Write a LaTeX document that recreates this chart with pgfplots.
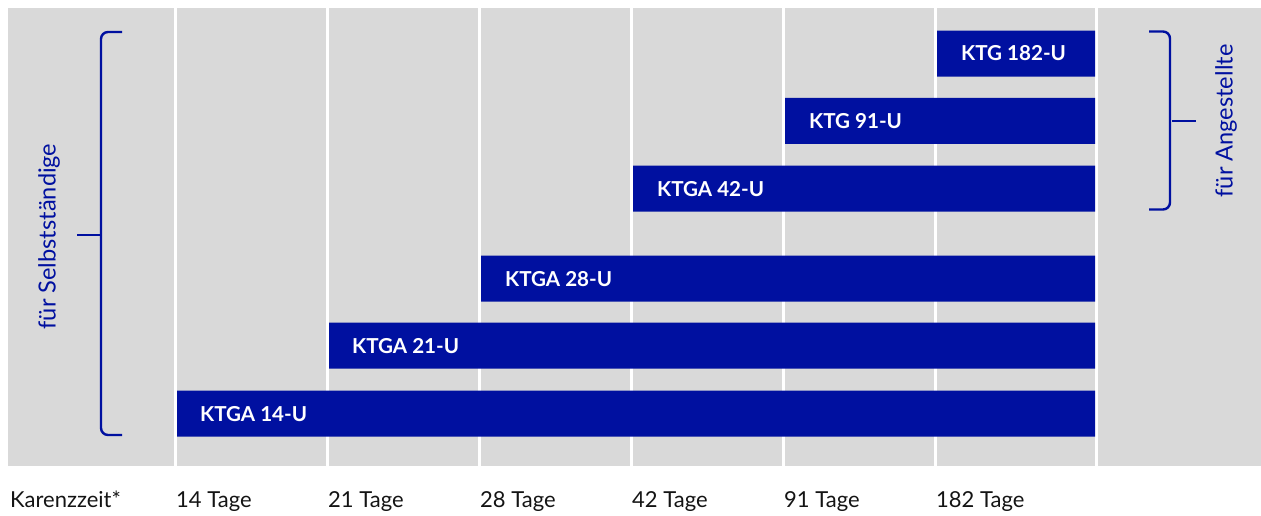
\documentclass[border=0pt]{standalone}
\usepackage{pgfplots}
\pgfplotsset{compat=1.18}
\usepackage{fontspec}
\setmainfont{Lato}
\definecolor{barblue}{RGB}{0,16,160}
\definecolor{bggrey}{RGB}{217,217,217}
\definecolor{labeltext}{RGB}{20,20,20}

\begin{document}
\begin{tikzpicture}[x=1pt, y=-1pt, shift={(0pt,515pt)}]
\useasboundingbox (0,0) rectangle (1261,515);
% background (pixel coordinates, y downwards)
\fill[bggrey] (8,8) rectangle (1261,465.5);
\foreach \gx in {175.5,327.5,479.5,631.5,783.5,935.5,1096.5}
  \draw[white, line width=3pt] (\gx,8) -- (\gx,465.5);
\begin{scope}[shift={(0pt,-515pt)}, x=1cm, y=1cm]
\begin{axis}[
  at={(0,0)}, anchor=south west,
  scale only axis, width=1261pt, height=515pt,
  xmin=0, xmax=1261, ymin=0, ymax=515, y dir=reverse,
  hide axis, clip=false,
  xbar stacked, bar width=46,
]
% bars: invisible offset (start), then visible length; y = row centre in px from top
\addplot[draw=none, fill=none] coordinates {(937,53.5) (785,120.8) (633,188.7) (481,278.7) (329,345.7) (177,413.7)};
\addplot[draw=none, fill=barblue] coordinates {(158,53.5) (310,120.8) (462,188.7) (614,278.7) (766,345.7) (918,413.7)};
\end{axis}
\end{scope}
% bar labels
\begin{scope}[every node/.style={anchor=west, inner sep=0pt, text=white, font=\fontsize{20.6}{24}\selectfont\bfseries}]
\node at (961,53.5) {KTG 182-U};
\node at (809,120.8) {KTG 91-U};
\node at (657,188.7) {KTGA 42-U};
\node at (505,278.7) {KTGA 28-U};
\node at (352,345.7) {KTGA 21-U};
\node at (200,413.7) {KTGA 14-U};
\end{scope}
% brackets
\draw[barblue, line width=2.4pt, rounded corners=7pt] (122,32) -- (101,32) -- (101,435) -- (122,435);
\draw[barblue, line width=2.4pt] (77,235) -- (101,235);
\draw[barblue, line width=2.4pt, rounded corners=7pt] (1149,31.5) -- (1170,31.5) -- (1170,209.5) -- (1149,209.5);
\draw[barblue, line width=2.4pt] (1172,121) -- (1196,121);
\node[rotate=90, text=barblue, font=\fontsize{23.6}{26}\selectfont] at (49,236.5) {für Selbstständige};
\node[rotate=90, text=barblue, font=\fontsize{23.6}{26}\selectfont] at (1226,121) {für Angestellte};
% x labels
\begin{scope}[every node/.style={anchor=base west, text=labeltext, font=\fontsize{22}{26}\selectfont, inner sep=0pt}]
\node at (10,507) {Karenzzeit*};
\node at (176,507) {14 Tage};
\node at (328,507) {21 Tage};
\node at (480,507) {28 Tage};
\node at (632,507) {42 Tage};
\node at (784,507) {91 Tage};
\node at (936,507) {182 Tage};
\end{scope}
\end{tikzpicture}%
\end{document}
